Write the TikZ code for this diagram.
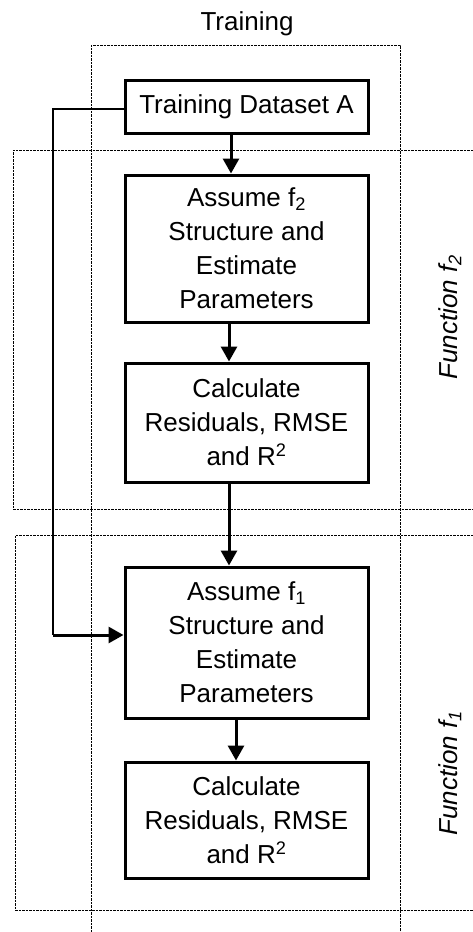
\documentclass[tikz,border=0pt]{standalone}
\usepackage{fontspec}
\setmainfont{Liberation Sans}
\usetikzlibrary{arrows.meta}
\begin{document}
\begin{tikzpicture}[x=1pt,y=-1pt,
  txt/.style={font=\fontsize{26}{34}\selectfont},
  stepbox/.style={draw,line width=3pt,minimum width=243pt,align=center,inner sep=0pt,txt},
  grp/.style={draw,line width=1pt,dash pattern=on 2.5pt off 1pt},
  flow/.style={line width=3pt,-{Triangle[width=16pt,length=15pt]}},
  thinline/.style={line width=1.5pt}]
\useasboundingbox (0,0) rectangle (473,932);
% group frames
\draw[grp] (91,932) -- (91,45) -- (400,45) -- (400,932);
\draw[grp] (480,150) -- (13,150) -- (13,509) -- (480,509);
\draw[grp] (480,535) -- (15,535) -- (15,910) -- (480,910);
% labels
\node[txt,anchor=base] (lt) at (247,30) {Training};
\node[txt,rotate=90,font=\fontsize{26}{34}\selectfont\itshape] (l2) at (450,317) {Function f\textsubscript{2}};
\node[txt,rotate=90,font=\fontsize{26}{34}\selectfont\itshape] (l1) at (450,773) {Function f\textsubscript{1}};
% boxes
\node[stepbox,minimum height=53pt] (td) at (246.5,106.5) {Training Dataset A};
\node[stepbox,minimum height=147pt] (a2) at (246.5,248.5) {Assume f\textsubscript{2}\\Structure and\\Estimate\\Parameters};
\node[stepbox,minimum height=119pt] (c2) at (246.5,422.5) {Calculate\\Residuals, RMSE\\and R\textsuperscript{2}};
\node[stepbox,minimum height=151pt] (a1) at (246.5,642.5) {Assume f\textsubscript{1}\\Structure and\\Estimate\\Parameters};
\node[stepbox,minimum height=116pt] (c1) at (246.5,820) {Calculate\\Residuals, RMSE\\and R\textsuperscript{2}};
% connectors
\draw[flow] (td.south -| 231,0) -- (a2.north -| 231,0);
\draw[flow] (a2.south -| 229,0) -- (c2.north -| 229,0);
\draw[flow] (c2.south -| 229,0) -- (a1.north -| 229,0);
\draw[flow] (a1.south -| 236,0) -- (c1.north -| 236,0);
\coordinate (k1) at (53,109);
\coordinate (k2) at (53,635);
\draw[thinline] (td.west |- k1) -- (k1) -- (k2);
\draw[flow] (k2) -- (a1.west |- k2);
\end{tikzpicture}
\end{document}
